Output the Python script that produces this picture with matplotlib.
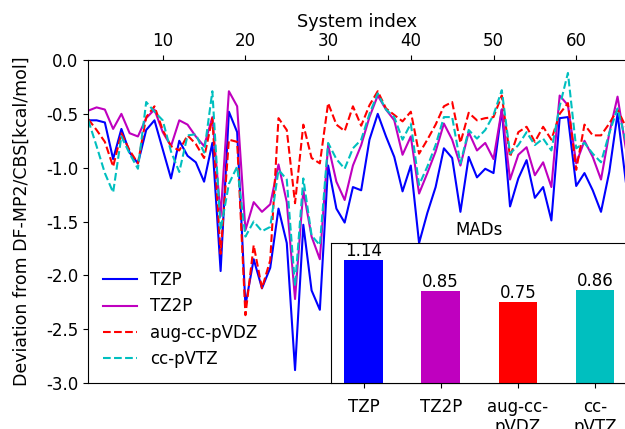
import numpy as np
import matplotlib
matplotlib.use("Agg")
import matplotlib.pyplot as plt

system_index = list(range(1, 67))

tzp = [-0.56, -0.56, -0.58, -0.92, -0.64, -0.86, -0.96, -0.65, -0.56, -0.83,
       -1.10, -0.75, -0.89, -0.95, -1.13, -0.77, -1.96, -0.48, -0.67, -2.28,
       -1.85, -2.12, -1.93, -1.38, -1.70, -2.88, -1.53, -2.14, -2.32, -0.98,
       -1.38, -1.51, -1.18, -1.21, -0.74, -0.50, -0.71, -0.90, -1.22, -0.98,
       -1.70, -1.42, -1.18, -0.82, -0.91, -1.41, -0.90, -1.09, -1.01, -1.05,
       -0.46, -1.36, -1.10, -0.93, -1.28, -1.18, -1.49, -0.54, -0.53, -1.17,
       -1.05, -1.21, -1.41, -1.04, -0.50, -1.13]

tz2p = [-0.47, -0.44, -0.46, -0.64, -0.50, -0.68, -0.71, -0.54, -0.46, -0.67,
        -0.80, -0.56, -0.60, -0.71, -0.80, -0.53, -1.45, -0.29, -0.43, -1.58,
        -1.32, -1.41, -1.34, -0.97, -1.32, -2.22, -1.21, -1.64, -1.85, -0.79,
        -1.13, -1.30, -0.98, -0.79, -0.53, -0.33, -0.46, -0.56, -0.88, -0.71,
        -1.24, -1.05, -0.85, -0.59, -0.74, -0.98, -0.67, -0.84, -0.77, -0.92,
        -0.46, -1.11, -0.88, -0.81, -1.07, -0.95, -1.18, -0.33, -0.42, -0.96,
        -0.75, -0.90, -1.11, -0.68, -0.34, -0.82]

aug_cc_pvdz = [-0.55, -0.65, -0.76, -0.99, -0.68, -0.84, -0.96, -0.53, -0.43, -0.65,
               -0.80, -0.84, -0.70, -0.78, -0.91, -0.54, -1.80, -0.74, -0.76, -2.37,
               -1.72, -2.12, -1.86, -0.54, -0.65, -1.33, -0.60, -0.91, -0.96, -0.40,
               -0.60, -0.66, -0.43, -0.61, -0.42, -0.29, -0.45, -0.51, -0.57, -0.48,
               -0.87, -0.74, -0.60, -0.43, -0.39, -0.77, -0.49, -0.56, -0.54, -0.53,
               -0.33, -0.90, -0.67, -0.62, -0.76, -0.62, -0.74, -0.50, -0.40, -1.02,
               -0.60, -0.70, -0.70, -0.59, -0.46, -0.62]

cc_pvtz = [-0.56, -0.80, -1.05, -1.23, -0.71, -0.87, -1.01, -0.39, -0.48, -0.56,
           -0.85, -1.04, -0.70, -0.69, -0.86, -0.29, -1.58, -1.15, -0.99, -1.64,
           -1.50, -1.59, -1.55, -1.02, -1.11, -2.10, -1.10, -1.63, -1.72, -0.77,
           -0.92, -1.01, -0.82, -0.74, -0.50, -0.31, -0.46, -0.53, -0.74, -0.59,
           -1.16, -0.99, -0.79, -0.53, -0.53, -0.96, -0.65, -0.73, -0.65, -0.51,
           -0.28, -0.87, -0.79, -0.67, -0.79, -0.73, -0.84, -0.43, -0.12, -0.82,
           -0.77, -0.87, -0.95, -0.68, -0.45, -0.75]

series_labels = ["TZP", "TZ2P", "aug-cc-pVDZ", "cc-pVTZ"]
bar_labels = ["TZP", "TZ2P", "aug-cc-\npVDZ", "cc-\npVTZ"]
mads = [1.14, 0.85, 0.75, 0.86]
colors = ["b", "m", "r", "c"]
styles = ["-", "-", "--", "--"]

plt.rcParams["font.family"] = ["DejaVu Sans"]
plt.rcParams["font.size"] = 12
plt.rcParams["axes.unicode_minus"] = False

fig = plt.figure(figsize=(6.25, 4.29), dpi=100)
ax = fig.add_axes([0.1413, 0.1072, 0.860, 0.7529])

for data, lab, col, ls in zip([tzp, tz2p, aug_cc_pvdz, cc_pvtz], series_labels, colors, styles):
    ax.plot(system_index, data, color=col, linestyle=ls, linewidth=1.5, label=lab)

ax.set_xlim(1, 66)
ax.set_ylim(-3.0, 0.0)
ax.set_yticks(np.arange(-3.0, 0.01, 0.5))
ax.set_xticks([10, 20, 30, 40, 50, 60])
ax.xaxis.tick_top()
ax.xaxis.set_label_position("top")
ax.set_xlabel("System index", fontsize=12.7)
ax.set_ylabel("Deviation from DF-MP2/CBS[kcal/mol]", fontsize=12.5, labelpad=11)
ax.legend(loc="lower left", frameon=False, fontsize=12)

ins = fig.add_axes([0.5296, 0.1072, 0.4744, 0.3264])
pos = np.arange(len(mads))
ins.bar(pos, mads, width=0.5, color=colors)
for p, v in zip(pos, mads):
    ins.text(p, v, f"{v:.2f}", ha="center", va="bottom", fontsize=12)
ins.set_ylim(0, 1.3)
ins.set_yticks([])
ins.set_xticks(pos)
ins.set_xticklabels(bar_labels, fontsize=12)
ins.tick_params(axis="x", pad=7)
ins.set_title("MADs", fontsize=12)

fig.savefig("out.png", dpi=100)
